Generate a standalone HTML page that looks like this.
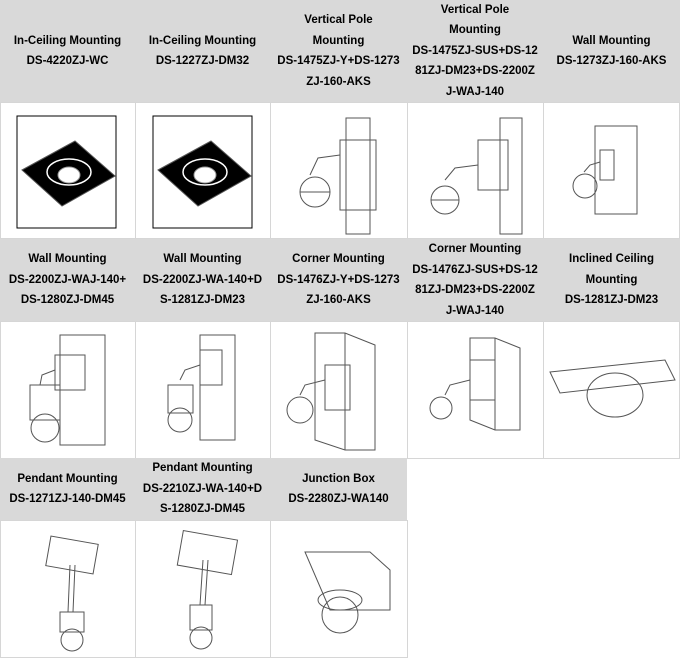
<!DOCTYPE html>
<html><head><meta charset="utf-8"><style>
body{margin:0;width:683px;height:666px;background:#fff;overflow:hidden;font-family:"Liberation Sans",sans-serif}
.c{position:absolute;box-sizing:border-box}
.h{background:#d9d9d9;display:flex;align-items:center;justify-content:center;text-align:center;font-weight:bold;font-size:11.5px;line-height:20.5px;color:#000;padding:0 3px}
.i{border:1px solid #d6d6d6;background:#fff}
svg{position:absolute;left:0;top:0}
</style></head><body>
<!-- row 1 headers -->
<div class="c h" style="left:0;top:0;width:135px;height:102px">In-Ceiling Mounting<br>DS-4220ZJ-WC</div>
<div class="c h" style="left:135px;top:0;width:135px;height:102px">In-Ceiling Mounting<br>DS-1227ZJ-DM32</div>
<div class="c h" style="left:270px;top:0;width:137px;height:102px">Vertical Pole<br>Mounting<br>DS-1475ZJ-Y+DS-1273<br>ZJ-160-AKS</div>
<div class="c h" style="left:407px;top:0;width:136px;height:102px">Vertical Pole<br>Mounting<br>DS-1475ZJ-SUS+DS-12<br>81ZJ-DM23+DS-2200Z<br>J-WAJ-140</div>
<div class="c h" style="left:543px;top:0;width:137px;height:102px">Wall Mounting<br>DS-1273ZJ-160-AKS</div>
<!-- row 1 images -->
<div class="c i" style="left:0;top:102px;width:136px;height:137px"></div>
<div class="c i" style="left:135px;top:102px;width:136px;height:137px"></div>
<div class="c i" style="left:270px;top:102px;width:138px;height:137px"></div>
<div class="c i" style="left:407px;top:102px;width:137px;height:137px"></div>
<div class="c i" style="left:543px;top:102px;width:137px;height:137px"></div>
<!-- row 2 headers -->
<div class="c h" style="left:0;top:239px;width:135px;height:82px">Wall Mounting<br>DS-2200ZJ-WAJ-140+<br>DS-1280ZJ-DM45</div>
<div class="c h" style="left:135px;top:239px;width:135px;height:82px">Wall Mounting<br>DS-2200ZJ-WA-140+D<br>S-1281ZJ-DM23</div>
<div class="c h" style="left:270px;top:239px;width:137px;height:82px">Corner Mounting<br>DS-1476ZJ-Y+DS-1273<br>ZJ-160-AKS</div>
<div class="c h" style="left:407px;top:239px;width:136px;height:82px">Corner Mounting<br>DS-1476ZJ-SUS+DS-12<br>81ZJ-DM23+DS-2200Z<br>J-WAJ-140</div>
<div class="c h" style="left:543px;top:239px;width:137px;height:82px">Inclined Ceiling<br>Mounting<br>DS-1281ZJ-DM23</div>
<div class="c i" style="left:0;top:321px;width:136px;height:138px"></div>
<div class="c i" style="left:135px;top:321px;width:136px;height:138px"></div>
<div class="c i" style="left:270px;top:321px;width:138px;height:138px"></div>
<div class="c i" style="left:407px;top:321px;width:137px;height:138px"></div>
<div class="c i" style="left:543px;top:321px;width:137px;height:138px"></div>
<!-- row 3 -->
<div class="c h" style="left:0;top:458px;width:135px;height:62px">Pendant Mounting<br>DS-1271ZJ-140-DM45</div>
<div class="c h" style="left:135px;top:458px;width:135px;height:62px">Pendant Mounting<br>DS-2210ZJ-WA-140+D<br>S-1280ZJ-DM45</div>
<div class="c h" style="left:270px;top:458px;width:137px;height:62px">Junction Box<br>DS-2280ZJ-WA140</div>
<div class="c i" style="left:0;top:520px;width:136px;height:138px"></div>
<div class="c i" style="left:135px;top:520px;width:136px;height:138px"></div>
<div class="c i" style="left:270px;top:520px;width:138px;height:138px"></div>

<svg width="683" height="666" fill="none" stroke="#555" stroke-width="1">
<!-- in-ceiling -->
<g><rect x="17" y="116" width="99" height="112" stroke="#000"/><polygon points="22,170 75,141 115,176 62,206" fill="#000"/><ellipse cx="69" cy="172" rx="22" ry="13" stroke="#fff" stroke-width="1.5"/><ellipse cx="69" cy="175" rx="11" ry="8" fill="#fff" stroke="#999"/></g>
<g transform="translate(136,0)"><rect x="17" y="116" width="99" height="112" stroke="#000"/><polygon points="22,170 75,141 115,176 62,206" fill="#000"/><ellipse cx="69" cy="172" rx="22" ry="13" stroke="#fff" stroke-width="1.5"/><ellipse cx="69" cy="175" rx="11" ry="8" fill="#fff" stroke="#999"/></g>
<!-- vertical pole 1 -->
<rect x="346" y="118" width="24" height="116"/><rect x="340" y="140" width="36" height="70"/><path d="M340 155 L318 158 L310 175"/><circle cx="315" cy="192" r="15"/><path d="M300 192 h30"/>
<!-- vertical pole 2 -->
<rect x="500" y="118" width="22" height="116"/><rect x="478" y="140" width="30" height="50"/><path d="M478 165 L455 168 L445 180"/><circle cx="445" cy="200" r="14"/><path d="M431 200 h28"/>
<!-- wall -->
<rect x="595" y="126" width="42" height="88"/><rect x="600" y="150" width="14" height="30"/><path d="M600 162 L590 165 L584 172"/><circle cx="585" cy="186" r="12"/>
<!-- wall 2 -->
<rect x="60" y="335" width="45" height="110"/><rect x="55" y="355" width="30" height="35"/><path d="M55 370 L42 375 L40 385"/><rect x="30" y="385" width="30" height="35"/><circle cx="45" cy="428" r="14"/>
<!-- wall 3 -->
<rect x="200" y="335" width="35" height="105"/><rect x="200" y="350" width="22" height="35"/><path d="M200 365 L185 370 L180 380"/><rect x="168" y="385" width="25" height="28"/><circle cx="180" cy="420" r="12"/>
<!-- corner 1 -->
<polygon points="315,333 345,333 375,345 375,450 345,450 315,440"/><path d="M345 333 V450"/><rect x="325" y="365" width="25" height="45"/><path d="M325 380 L305 385 L300 395"/><circle cx="300" cy="410" r="13"/>
<!-- corner 2 -->
<polygon points="470,338 495,338 520,348 520,430 495,430 470,420"/><path d="M495 338 V430"/><rect x="470" y="360" width="25" height="40"/><path d="M470 380 L450 385 L445 395"/><circle cx="441" cy="408" r="11"/>
<!-- inclined -->
<polygon points="550,372 665,360 675,380 560,393"/><ellipse cx="615" cy="395" rx="28" ry="22"/>
<!-- pendant 1 -->
<rect x="48" y="540" width="48" height="30" transform="rotate(10 72 555)"/><path d="M70 565 L68 612 M75 565 L73 612"/><rect x="60" y="612" width="24" height="20"/><circle cx="72" cy="640" r="11"/>
<!-- pendant 2 -->
<rect x="180" y="535" width="55" height="35" transform="rotate(10 207 552)"/><path d="M203 560 L200 605 M208 560 L205 605"/><rect x="190" y="605" width="22" height="25"/><circle cx="201" cy="638" r="11"/>
<!-- junction box -->
<polygon points="305,552 370,552 390,570 390,610 330,610"/><ellipse cx="340" cy="600" rx="22" ry="10"/><circle cx="340" cy="615" r="18"/>
</svg>
</body></html>
